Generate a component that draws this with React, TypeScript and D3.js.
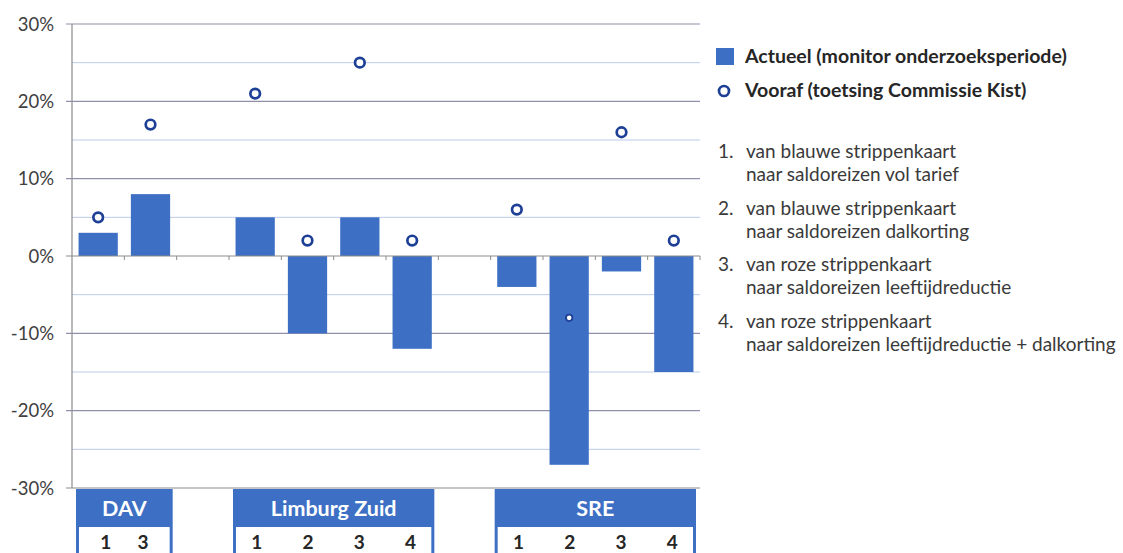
import React, { useEffect, useRef } from 'react';
import * as d3 from 'd3';

// chart values (fractions)
const groups = ['DAV', 'Limburg Zuid', 'SRE'];
const groupItems = [['1', '3'], ['1', '2', '3', '4'], ['1', '2', '3', '4']];
const actueel = [[0.03, 0.08], [0.05, -0.1, 0.05, -0.12], [-0.04, -0.27, -0.02, -0.15]];
const vooraf = [[0.05, 0.17], [0.21, 0.02, 0.25, 0.02], [0.06, -0.08, 0.16, 0.02]];
const yTicks = [0.3, 0.2, 0.1, 0, -0.1, -0.2, -0.3];
const yMinorTicks = [0.25, 0.15, 0.05, -0.05, -0.15, -0.25];
const legendLabels = ['Actueel (monitor onderzoeksperiode)', 'Vooraf (toetsing Commissie Kist)'];
const notes = [
  ['van blauwe strippenkaart', 'naar saldoreizen vol tarief'],
  ['van blauwe strippenkaart', 'naar saldoreizen dalkorting'],
  ['van roze strippenkaart', 'naar saldoreizen leeftijdreductie'],
  ['van roze strippenkaart', 'naar saldoreizen leeftijdreductie + dalkorting'],
];

const FONT = 'Lato, "Open Sans", sans-serif';
const BAR = '#3d6fc4';
const DOT = '#1d3f96';

const App = () => {
  const svgRef = useRef<SVGSVGElement>(null);

  useEffect(() => {
    const svg = d3.select(svgRef.current);
    svg.selectAll('*').remove();

    // slots: one per bar, with an empty slot between groups
    const slots: string[] = [];
    groups.forEach((g, gi) => {
      groupItems[gi].forEach((it) => slots.push(`${g}|${it}`));
      if (gi < groups.length - 1) slots.push(`gap${gi}`);
    });
    const rows = groups.flatMap((g, gi) =>
      groupItems[gi].map((it, i) => ({ key: `${g}|${it}`, act: actueel[gi][i], pre: vooraf[gi][i] }))
    );

    const left = 72;
    const right = 700;
    const x = d3.scaleBand().domain(slots).range([left, right]).paddingInner(0.25).paddingOuter(0.125);
    const y = d3.scaleLinear().domain([-0.3, 0.3]).range([488, 24]);
    const step = x.step();
    const pct = (d: number) => `${Math.round(d * 100)}%`;

    // gridlines
    svg
      .append('g')
      .selectAll('line')
      .data(yMinorTicks)
      .enter()
      .append('line')
      .attr('x1', left)
      .attr('x2', right)
      .attr('y1', (d) => y(d))
      .attr('y2', (d) => y(d))
      .attr('stroke', '#bccbea')
      .attr('stroke-width', 1);

    svg
      .append('g')
      .selectAll('line')
      .data(yTicks.filter((d) => d !== 0))
      .enter()
      .append('line')
      .attr('x1', left - 6)
      .attr('x2', right)
      .attr('y1', (d) => y(d))
      .attr('y2', (d) => y(d))
      .attr('stroke', (d) => (d === -0.3 ? '#8c8c8c' : '#8f8fae'))
      .attr('stroke-width', 1.2);

    // y axis labels
    svg
      .append('g')
      .selectAll('text')
      .data(yTicks)
      .enter()
      .append('text')
      .attr('x', 54)
      .attr('y', (d) => y(d) + 6.5)
      .attr('text-anchor', 'end')
      .attr('font-family', FONT)
      .attr('font-size', 18.5)
      .attr('fill', '#404040')
      .text((d) => pct(d));

    // bars
    svg
      .append('g')
      .selectAll('rect')
      .data(rows)
      .enter()
      .append('rect')
      .attr('x', (d) => x(d.key)!)
      .attr('width', x.bandwidth())
      .attr('y', (d) => y(Math.max(d.act, 0)))
      .attr('height', (d) => Math.abs(y(d.act) - y(0)))
      .attr('fill', BAR);

    // y axis line and zero line with ticks
    svg.append('line').attr('x1', left).attr('x2', left).attr('y1', y(0.3)).attr('y2', y(-0.3))
      .attr('stroke', '#8c8c8c').attr('stroke-width', 1.2);
    svg.append('line').attr('x1', left - 6).attr('x2', right).attr('y1', y(0)).attr('y2', y(0))
      .attr('stroke', '#8c8c8c').attr('stroke-width', 1.2);
    svg
      .append('g')
      .selectAll('line')
      .data(d3.range(1, slots.length + 1))
      .enter()
      .append('line')
      .attr('x1', (k) => left + k * step)
      .attr('x2', (k) => left + k * step)
      .attr('y1', y(0))
      .attr('y2', y(0) + 4)
      .attr('stroke', '#8c8c8c')
      .attr('stroke-width', 1);

    // markers (the one sitting inside a bar is drawn smaller)
    svg
      .append('g')
      .selectAll('circle')
      .data(rows)
      .enter()
      .append('circle')
      .attr('cx', (d) => x(d.key)! + x.bandwidth() / 2)
      .attr('cy', (d) => y(d.pre))
      .attr('r', (d) => (d.act < d.pre && d.pre < 0 ? 3.2 : 4.8))
      .attr('fill', '#fff')
      .attr('stroke', DOT)
      .attr('stroke-width', (d) => (d.act < d.pre && d.pre < 0 ? 1.8 : 2.7));

    // group label boxes
    groups.forEach((g, gi) => {
      const keys = groupItems[gi].map((it) => `${g}|${it}`);
      const x0 = x(keys[0])! - (step - x.bandwidth()) / 2 + 4;
      const x1 = x(keys[keys.length - 1])! + x.bandwidth() + (step - x.bandwidth()) / 2 - 4;
      const cx = (x0 + x1) / 2;
      // narrow box: numbers pulled in towards the middle
      const spacing = keys.length > 2 ? step * 0.98 : step * 0.71;
      const box = svg.append('g');
      box.append('rect').attr('x', x0).attr('y', 489).attr('width', x1 - x0).attr('height', 80).attr('fill', BAR);
      box.append('rect').attr('x', x0 + 3).attr('y', 527).attr('width', x1 - x0 - 6).attr('height', 80).attr('fill', '#fff');
      box
        .append('text')
        .attr('x', cx)
        .attr('y', 516)
        .attr('text-anchor', 'middle')
        .attr('font-family', FONT)
        .attr('font-weight', 'bold')
        .attr('font-size', 21.5)
        .attr('fill', '#fff')
        .text(g);
      box
        .selectAll('text.num')
        .data(groupItems[gi])
        .enter()
        .append('text')
        .attr('class', 'num')
        .attr('x', (it, i) => cx + (i - (keys.length - 1) / 2) * spacing)
        .attr('y', 549)
        .attr('text-anchor', 'middle')
        .attr('font-family', FONT)
        .attr('font-weight', 'bold')
        .attr('font-size', 19)
        .attr('fill', '#262626')
        .text((it) => it);
    });

    // legend
    const lg = svg.append('g');
    lg.append('rect').attr('x', 716).attr('y', 48).attr('width', 18).attr('height', 17).attr('fill', BAR);
    lg.append('circle').attr('cx', 724).attr('cy', 91).attr('r', 5).attr('fill', '#fff').attr('stroke', DOT).attr('stroke-width', 2.7);
    lg.selectAll('text.leg')
      .data(legendLabels)
      .enter()
      .append('text')
      .attr('class', 'leg')
      .attr('x', 745)
      .attr('y', (d, i) => 63 + i * 34)
      .attr('font-family', FONT)
      .attr('font-weight', 'bold')
      .attr('font-size', 19.5)
      .attr('fill', '#262626')
      .text((d) => d);

    const nt = svg.append('g');
    notes.forEach((lines, i) => {
      const by = 158 + i * 56.7;
      nt.append('text')
        .attr('x', 718)
        .attr('y', by)
        .attr('font-family', FONT)
        .attr('font-size', 19)
        .attr('fill', '#3a3a3a')
        .text(`${i + 1}.`);
      lines.forEach((t, j) => {
        nt.append('text')
          .attr('x', 746)
          .attr('y', by + j * 23)
          .attr('font-family', FONT)
          .attr('font-size', 19)
          .attr('fill', '#3a3a3a')
          .text(t);
      });
    });
  }, []);

  return <svg ref={svgRef} width={1123} height={553} style={{ position: 'absolute', left: 0, top: 0, background: '#fff' }}></svg>;
};

export default App;
